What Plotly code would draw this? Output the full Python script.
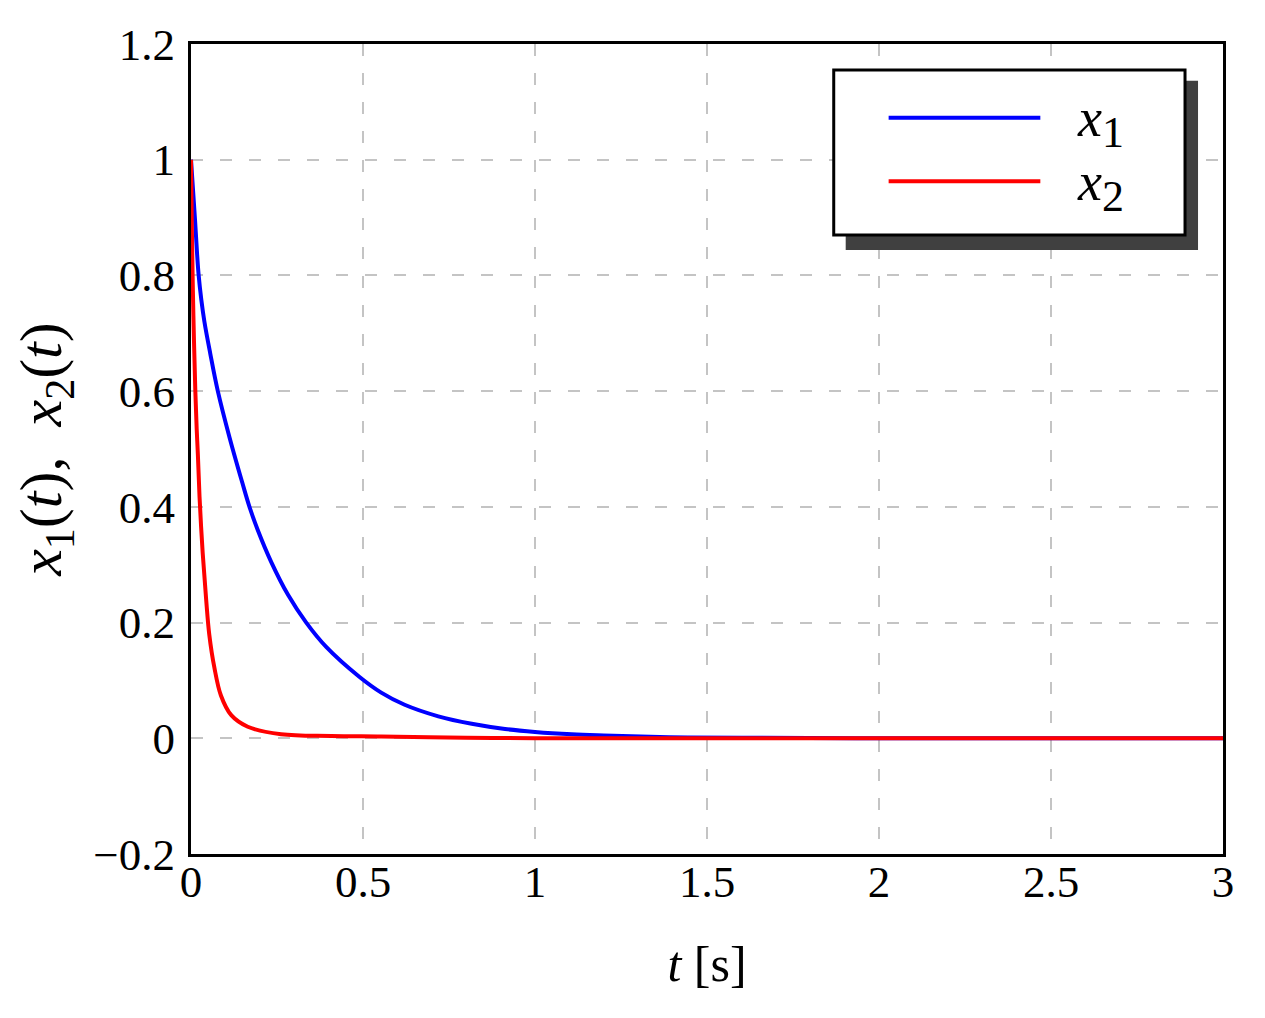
import plotly.graph_objects as go

# values
t_x1 = [0, 0.0117, 0.0175, 0.0223, 0.03, 0.039, 0.056, 0.078, 0.112, 0.149, 0.170,
        0.194, 0.233, 0.282, 0.335, 0.393, 0.49, 0.553, 0.621, 0.719, 0.816,
        0.913, 1.0, 1.107, 1.2, 1.39, 1.6, 2.0, 2.5, 3.0]
x1 = [1.0, 0.896, 0.839, 0.8, 0.758, 0.72, 0.665, 0.6, 0.52, 0.442, 0.4,
      0.36, 0.305, 0.248, 0.2, 0.158, 0.106, 0.079, 0.058, 0.038, 0.025,
      0.016, 0.011, 0.007, 0.005, 0.002, 0.001, 0.0, 0.0, 0.0]

t_x2 = [0, 0.003, 0.007, 0.0126, 0.0165, 0.020, 0.025, 0.034, 0.044, 0.053,
        0.068, 0.087, 0.117, 0.165, 0.262, 0.408, 0.553, 0.8, 1.0, 1.5, 2.0, 2.5, 3.0]
x2 = [1.0, 0.86, 0.73, 0.6, 0.535, 0.49, 0.415, 0.32, 0.24, 0.18,
      0.122, 0.074, 0.040, 0.020, 0.007, 0.004, 0.003, 0.001, 0.0, 0.0, 0.0, 0.0, 0.0]

x_ticks = [0, 0.5, 1, 1.5, 2, 2.5, 3]
y_ticks = [-0.2, 0, 0.2, 0.4, 0.6, 0.8, 1, 1.2]

FONT = "Liberation Serif"

fig = go.Figure()
fig.add_trace(go.Scatter(x=t_x1, y=x1, mode="lines", name="x1",
                         line=dict(color="#0000ff", width=4, shape="spline", smoothing=1.0)))
fig.add_trace(go.Scatter(x=t_x2, y=x2, mode="lines", name="x2",
                         line=dict(color="#ff0000", width=4, shape="spline", smoothing=1.0)))

axis_common = dict(
    showline=True, linecolor="black", linewidth=3, mirror=True,
    showgrid=True, gridcolor="#c4c4c4", gridwidth=2.2, griddash="12px,17px",
    zeroline=False, ticks="",
    tickfont=dict(family=FONT, size=45, color="black"),
)

fig.update_xaxes(range=[0, 3], tickvals=x_ticks, ticklabelstandoff=-14, **axis_common,
                 title=dict(text="<i>t</i> [s]", font=dict(family=FONT, size=50, color="black"),
                            standoff=40))
fig.update_yaxes(range=[-0.2, 1.2], tickvals=y_ticks, ticklabelstandoff=4, **axis_common,
                 title=dict(text="<i>x</i><sub>1</sub>(<i>t</i>),  <i>x</i><sub>2</sub>(<i>t</i>)",
                            font=dict(family=FONT, size=60, color="black"), standoff=14))

# hand-made legend with drop shadow
fig.add_shape(type="rect", xref="paper", yref="paper", x0=0.6344, x1=0.9758, y0=0.7457, y1=0.9545,
              fillcolor="#404040", line=dict(width=0), layer="above")
fig.add_shape(type="rect", xref="paper", yref="paper", x0=0.6228, x1=0.9632, y0=0.7641, y1=0.968,
              fillcolor="white", line=dict(color="black", width=3), layer="above")
legend_rows = [("#0000ff", "1", 0.909), ("#ff0000", "2", 0.8305)]
for color, sub, yy in legend_rows:
    fig.add_shape(type="line", xref="paper", yref="paper", x0=0.676, x1=0.823, y0=yy, y1=yy,
                  line=dict(color=color, width=4), layer="above")
    fig.add_annotation(xref="paper", yref="paper", x=0.857, y=yy - 0.006,
                       text="<i>x</i><sub><span style='font-size:44px'>" + sub + "</span></sub>",
                       showarrow=False, xanchor="left", yanchor="middle",
                       font=dict(family=FONT, size=54, color="black"))

# the page body adds a few pixels of offset, so the margins are shifted to compensate
fig.update_layout(
    width=1265, height=1018,
    margin=dict(l=183, r=50, t=32, b=172),
    plot_bgcolor="white", paper_bgcolor="white",
    showlegend=False,
    font=dict(family=FONT, color="black"),
)

fig.write_html("out.html")
